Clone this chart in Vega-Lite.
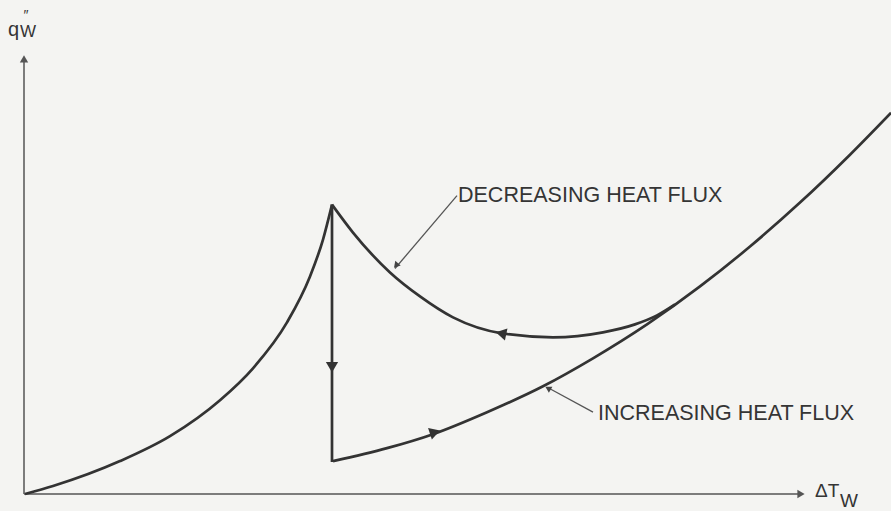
{
  "$schema": "https://vega.github.io/schema/vega-lite/v6.json",
  "width": 891,
  "height": 511,
  "autosize": {"type": "fit", "contains": "padding"},
  "padding": 0,
  "background": "#f4f4f2",
  "view": {"stroke": null},
  "config": {"text": {"font": "Liberation Sans", "color": "#353535"}},
  "datasets": {
    "curves": [
      {"series": "boiling", "dT": 0, "q": 0},
      {"series": "boiling", "dT": 28, "q": 8},
      {"series": "boiling", "dT": 95, "q": 33},
      {"series": "boiling", "dT": 145, "q": 58},
      {"series": "boiling", "dT": 195, "q": 94},
      {"series": "boiling", "dT": 228, "q": 126},
      {"series": "boiling", "dT": 262, "q": 172},
      {"series": "boiling", "dT": 285, "q": 218},
      {"series": "boiling", "dT": 298, "q": 255},
      {"series": "boiling", "dT": 307, "q": 290},
      {"series": "decreasing", "dT": 307, "q": 290},
      {"series": "decreasing", "dT": 328, "q": 262},
      {"series": "decreasing", "dT": 365, "q": 222},
      {"series": "decreasing", "dT": 395, "q": 198},
      {"series": "decreasing", "dT": 428, "q": 177},
      {"series": "decreasing", "dT": 477, "q": 161},
      {"series": "decreasing", "dT": 528, "q": 157},
      {"series": "decreasing", "dT": 578, "q": 162},
      {"series": "decreasing", "dT": 610, "q": 170},
      {"series": "decreasing", "dT": 632, "q": 179},
      {"series": "decreasing", "dT": 650, "q": 190},
      {"series": "increasing", "dT": 308, "q": 33},
      {"series": "increasing", "dT": 362, "q": 46},
      {"series": "increasing", "dT": 408, "q": 60},
      {"series": "increasing", "dT": 462, "q": 82},
      {"series": "increasing", "dT": 518, "q": 108},
      {"series": "increasing", "dT": 568, "q": 136},
      {"series": "increasing", "dT": 622, "q": 170},
      {"series": "increasing", "dT": 675, "q": 208},
      {"series": "increasing", "dT": 725, "q": 248},
      {"series": "increasing", "dT": 775, "q": 292},
      {"series": "increasing", "dT": 825, "q": 340},
      {"series": "increasing", "dT": 866, "q": 382}
    ],
    "drop": [
      {"series": "drop", "dT": 307, "q": 290},
      {"series": "drop", "dT": 307, "q": 32}
    ],
    "axes": [
      {"series": "yaxis", "dT": -1, "q": 0},
      {"series": "yaxis", "dT": -1, "q": 436},
      {"series": "xaxis", "dT": -1, "q": 0},
      {"series": "xaxis", "dT": 775, "q": 0}
    ],
    "leaders": [
      {"series": "dec", "dT": 370, "q": 226},
      {"series": "dec", "dT": 432, "q": 299},
      {"series": "inc", "dT": 524, "q": 106},
      {"series": "inc", "dT": 568, "q": 82}
    ],
    "labels": [
      {"text": "DECREASING HEAT FLUX", "dT": 433, "q": 299},
      {"text": "INCREASING HEAT FLUX", "dT": 573, "q": 80}
    ]
  },
  "layer": [
    {
      "data": {"name": "axes"},
      "mark": {"type": "line", "color": "#555555", "strokeWidth": 1.5},
      "encoding": {
        "x": {"field": "dT", "type": "quantitative", "scale": {"domain": [-25, 866], "nice": false, "zero": false}, "axis": null},
        "y": {"field": "q", "type": "quantitative", "scale": {"domain": [-16, 495], "nice": false, "zero": false}, "axis": null},
        "detail": {"field": "series"}
      }
    },
    {
      "data": {"values": [{"dT": -1, "q": 436}]},
      "mark": {"type": "point", "shape": "triangle-up", "filled": true, "color": "#555555", "size": 70, "opacity": 1},
      "encoding": {"x": {"field": "dT", "type": "quantitative"}, "y": {"field": "q", "type": "quantitative"}}
    },
    {
      "data": {"values": [{"dT": 776, "q": 0}]},
      "mark": {"type": "point", "shape": "triangle-right", "filled": true, "color": "#555555", "size": 70, "opacity": 1},
      "encoding": {"x": {"field": "dT", "type": "quantitative"}, "y": {"field": "q", "type": "quantitative"}}
    },
    {
      "data": {"name": "curves"},
      "mark": {"type": "line", "color": "#333333", "strokeWidth": 2.7, "interpolate": "monotone", "clip": true},
      "encoding": {
        "x": {"field": "dT", "type": "quantitative"},
        "y": {"field": "q", "type": "quantitative"},
        "detail": {"field": "series"}
      }
    },
    {
      "data": {"name": "drop"},
      "mark": {"type": "line", "color": "#333333", "strokeWidth": 2.7},
      "encoding": {
        "x": {"field": "dT", "type": "quantitative"},
        "y": {"field": "q", "type": "quantitative"}
      }
    },
    {
      "data": {"name": "leaders"},
      "mark": {"type": "line", "color": "#555555", "strokeWidth": 1.3},
      "encoding": {
        "x": {"field": "dT", "type": "quantitative"},
        "y": {"field": "q", "type": "quantitative"},
        "detail": {"field": "series"}
      }
    },
    {
      "data": {"values": [{"dT": 307, "q": 127}]},
      "mark": {"type": "point", "shape": "triangle-down", "filled": true, "color": "#333333", "size": 150, "opacity": 1},
      "encoding": {"x": {"field": "dT", "type": "quantitative"}, "y": {"field": "q", "type": "quantitative"}}
    },
    {
      "data": {"values": [{"dT": 410, "q": 62}]},
      "mark": {"type": "point", "shape": "triangle-right", "filled": true, "color": "#333333", "size": 150, "opacity": 1, "angle": -18},
      "encoding": {"x": {"field": "dT", "type": "quantitative"}, "y": {"field": "q", "type": "quantitative"}}
    },
    {
      "data": {"values": [{"dT": 476, "q": 161}]},
      "mark": {"type": "point", "shape": "triangle-left", "filled": true, "color": "#333333", "size": 150, "opacity": 1, "angle": 12},
      "encoding": {"x": {"field": "dT", "type": "quantitative"}, "y": {"field": "q", "type": "quantitative"}}
    },
    {
      "data": {"values": [{"dT": 371, "q": 229}]},
      "mark": {"type": "point", "shape": "triangle-down", "filled": true, "color": "#444444", "size": 50, "opacity": 1, "angle": 40},
      "encoding": {"x": {"field": "dT", "type": "quantitative"}, "y": {"field": "q", "type": "quantitative"}}
    },
    {
      "data": {"values": [{"dT": 523, "q": 106}]},
      "mark": {"type": "point", "shape": "triangle-up", "filled": true, "color": "#444444", "size": 50, "opacity": 1, "angle": -60},
      "encoding": {"x": {"field": "dT", "type": "quantitative"}, "y": {"field": "q", "type": "quantitative"}}
    },
    {
      "data": {"name": "labels"},
      "mark": {"type": "text", "align": "left", "baseline": "middle", "fontSize": 21.5},
      "encoding": {
        "x": {"field": "dT", "type": "quantitative"},
        "y": {"field": "q", "type": "quantitative"},
        "text": {"field": "text"}
      }
    },
    {
      "data": {"values": [{"text": "ΔT", "dT": 790, "q": 3}]},
      "mark": {"type": "text", "align": "left", "baseline": "middle", "fontSize": 19},
      "encoding": {"x": {"field": "dT", "type": "quantitative"}, "y": {"field": "q", "type": "quantitative"}, "text": {"field": "text"}}
    },
    {
      "data": {"values": [{"text": "W", "dT": 815, "q": -7}]},
      "mark": {"type": "text", "align": "left", "baseline": "middle", "fontSize": 19},
      "encoding": {"x": {"field": "dT", "type": "quantitative"}, "y": {"field": "q", "type": "quantitative"}, "text": {"field": "text"}}
    },
    {
      "data": {"values": [{"text": "q", "dT": -17, "q": 465}]},
      "mark": {"type": "text", "align": "left", "baseline": "middle", "fontSize": 20},
      "encoding": {"x": {"field": "dT", "type": "quantitative"}, "y": {"field": "q", "type": "quantitative"}, "text": {"field": "text"}}
    },
    {
      "data": {"values": [{"text": "W", "dT": -5, "q": 463}]},
      "mark": {"type": "text", "align": "left", "baseline": "middle", "fontSize": 17},
      "encoding": {"x": {"field": "dT", "type": "quantitative"}, "y": {"field": "q", "type": "quantitative"}, "text": {"field": "text"}}
    },
    {
      "data": {"values": [{"text": "″", "dT": 1, "q": 479}]},
      "mark": {"type": "text", "align": "center", "baseline": "middle", "fontSize": 14},
      "encoding": {"x": {"field": "dT", "type": "quantitative"}, "y": {"field": "q", "type": "quantitative"}, "text": {"field": "text"}}
    }
  ]
}
